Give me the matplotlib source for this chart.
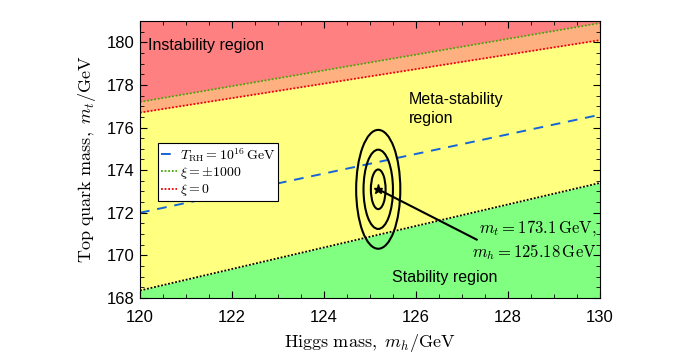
import numpy as np
import matplotlib

matplotlib.use("Agg")
import matplotlib.pyplot as plt
from matplotlib.patches import Ellipse
from matplotlib.ticker import MultipleLocator

plt.rcParams["mathtext.fontset"] = "cm"
plt.rcParams["font.family"] = ["Liberation Sans", "DejaVu Sans"]

# Higgs mass grid end points and boundary lines (top quark mass, GeV)
mh_ends = [120.0, 130.0]
mt_xi1000 = [177.2, 180.9]      # xi = +-1000 (green dotted)
mt_xi0 = [176.7, 180.1]         # xi = 0 (red dotted)
mt_trh = [172.0, 176.6]         # T_RH = 1e16 GeV (blue dashed)
mt_stable = [168.35, 173.4]     # stability boundary (black dotted)

# measured point and sigma contours
mh_best, mt_best = 125.18, 173.1
sig_mh, sig_mt = 0.16, 0.93
n_sigma = [1, 2, 3]

x = np.array(mh_ends)
ytop = 181.0
ybot = 168.0

fig = plt.figure(figsize=(7.0, 3.56), dpi=100)
ax = fig.add_axes([0.2, 0.163, 0.657, 0.778])

ax.fill_between(x, mt_xi1000, ytop, color="#ff8080", lw=0)
ax.fill_between(x, mt_xi0, mt_xi1000, color="#ffb080", lw=0)
ax.fill_between(x, mt_stable, mt_xi0, color="#ffff80", lw=0)
ax.fill_between(x, ybot, mt_stable, color="#80ff80", lw=0)

ax.plot(x, mt_trh, color="#1565d8", ls=(0, (5, 4)), lw=1.4,
        label=r"$T_{\rm RH} = 10^{16}\,\mathrm{GeV}$")
ax.plot(x, mt_xi1000, color="#44aa00", ls=(0, (1, 1)), lw=1.3,
        label=r"$\xi = \pm 1000$")
ax.plot(x, mt_xi0, color="#ee0000", ls=(0, (1, 1)), lw=1.3,
        label=r"$\xi = 0$")
ax.plot(x, mt_stable, color="black", ls=(0, (1, 1)), lw=1.3)

for n in n_sigma:
    ax.add_patch(Ellipse((mh_best, mt_best), 2 * n * sig_mh, 2 * n * sig_mt,
                         fill=False, ec="black", lw=1.5, zorder=5))
ax.plot([mh_best], [mt_best], marker="*", color="black", ms=6.5, zorder=6)

ax.plot([mh_best, 127.32], [mt_best, 170.74], color="black", lw=1.5, zorder=6)
ax.text(129.93, 170.72,
        "$m_t = 173.1\\,\\mathrm{GeV},$\n$m_h = 125.18\\,\\mathrm{GeV}$",
        ha="right", va="center", multialignment="right", fontsize=12,
        linespacing=1.25)

ax.text(120.17, 179.85, "Instability region", fontsize=11.5, va="center")
ax.text(125.85, 176.87, "Meta-stability\nregion", fontsize=11.5, va="center",
        linespacing=1.35)
ax.text(126.63, 168.94, "Stability region", fontsize=11.5, ha="center",
        va="center")

leg = ax.legend(loc="upper left", bbox_to_anchor=(0.039, 0.56), fontsize=10,
                frameon=True, fancybox=False, edgecolor="black", framealpha=1,
                handlelength=1.2, handletextpad=0.2, borderpad=0.2,
                labelspacing=0.1, borderaxespad=0)
leg.get_frame().set_linewidth(0.8)

ax.set_xlim(120, 130)
ax.set_ylim(168, 181)
ax.xaxis.set_major_locator(MultipleLocator(2))
ax.xaxis.set_minor_locator(MultipleLocator(0.5))
ax.yaxis.set_major_locator(MultipleLocator(2))
ax.yaxis.set_minor_locator(MultipleLocator(0.5))
ax.tick_params(which="both", direction="in", top=True, right=True,
               labelsize=12)
ax.tick_params(which="major", length=5)
ax.tick_params(which="minor", length=3)
ax.tick_params(axis="x", pad=9)
ax.tick_params(axis="y", pad=4)

ax.set_xlabel(r"$\mathrm{Higgs\ mass,}\ m_h/\mathrm{GeV}$", fontsize=13,
              labelpad=5)
ax.set_ylabel(r"$\mathrm{Top\ quark\ mass,}\ m_t/\mathrm{GeV}$", fontsize=13,
              labelpad=6)

fig.savefig("out.png", dpi=100)
plt.close(fig)
